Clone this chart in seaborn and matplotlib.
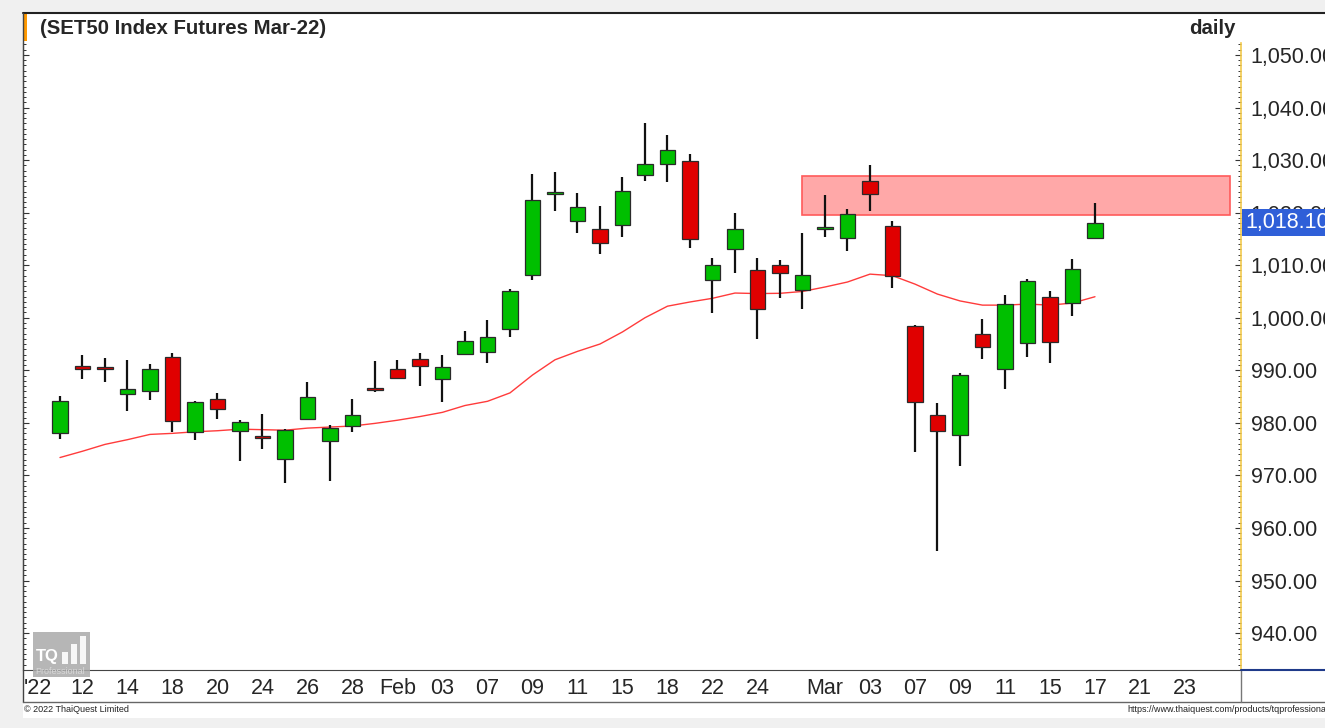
import pandas as pd
import matplotlib.pyplot as plt
import matplotlib.ticker as mticker
from matplotlib.patches import Rectangle
from matplotlib.lines import Line2D
import seaborn as sns

W, H = 1325, 728

# trading calendar (SET holiday on Feb 16 dropped); Jan 10 only carries the year label
calendar = pd.bdate_range("2022-01-10", "2022-03-25").drop(pd.Timestamp("2022-02-16"))

dates = pd.bdate_range("2022-01-11", "2022-03-17").drop(pd.Timestamp("2022-02-16"))
opens = [978.1, 990.9, 990.6, 985.5, 986.1, 992.5, 978.2, 984.5, 978.4, 977.5,
         973.1, 980.8, 976.6, 979.4, 986.6, 990.2, 992.2, 988.3, 993.1, 993.4,
         997.9, 1008.1, 1023.5, 1018.4, 1016.9, 1017.6, 1027.2, 1029.2, 1029.8, 1007.1,
         1013.0, 1009.1, 1010.0, 1005.2, 1016.8, 1015.1, 1026.0, 1017.5, 998.5, 981.5,
         977.6, 997.0, 990.2, 995.1, 1004.0, 1002.9, 1015.1]
highs = [985.1, 992.9, 992.3, 992.0, 991.2, 993.2, 984.2, 985.7, 980.5, 981.7,
         978.8, 987.8, 979.5, 984.5, 991.8, 992.0, 993.2, 993.0, 997.5, 999.6,
         1005.4, 1027.4, 1027.8, 1023.8, 1021.3, 1026.8, 1037.1, 1034.8, 1031.1, 1011.3,
         1019.9, 1011.4, 1010.9, 1016.2, 1023.4, 1020.7, 1029.1, 1018.4, 998.6, 983.7,
         989.5, 999.8, 1004.3, 1007.4, 1005.1, 1011.2, 1021.9]
lows = [977.0, 988.3, 987.7, 982.3, 984.3, 978.3, 976.7, 980.7, 972.7, 975.1,
        968.5, 980.5, 968.9, 978.3, 985.9, 988.3, 987.1, 984.0, 992.9, 991.4,
        996.4, 1007.1, 1020.4, 1016.1, 1012.1, 1015.4, 1026.0, 1025.9, 1013.3, 1000.9,
        1008.5, 996.0, 1003.8, 1001.6, 1015.3, 1012.7, 1020.4, 1005.6, 974.5, 955.6,
        971.7, 992.1, 986.4, 992.5, 991.3, 1000.3, 1014.9]
closes = [984.2, 990.3, 990.2, 986.4, 990.2, 980.4, 983.9, 982.6, 980.2, 977.1,
          978.6, 985.0, 979.0, 981.4, 986.3, 988.5, 990.9, 990.6, 995.6, 996.4,
          1005.0, 1022.4, 1023.7, 1021.1, 1014.2, 1024.2, 1029.2, 1031.9, 1015.0, 1010.0,
          1016.8, 1001.6, 1008.5, 1008.1, 1017.2, 1019.7, 1023.5, 1008.0, 984.0, 978.5,
          989.05, 994.4, 1002.6, 1006.9, 995.4, 1009.3, 1018.1]
ma = [973.4, 974.6, 975.9, 976.8, 977.8, 978.0, 978.3, 978.5, 978.8, 978.7,
      978.6, 979.0, 979.2, 979.4, 979.9, 980.5, 981.2, 982.0, 983.3, 984.1,
      985.7, 989.1, 992.0, 993.6, 995.0, 997.3, 1000.0, 1002.2, 1003.0, 1003.7,
      1004.7, 1004.6, 1004.65, 1005.0, 1005.85, 1006.8, 1008.3, 1008.0, 1006.4, 1004.5,
      1003.2, 1002.4, 1002.4, 1002.6, 1002.4, 1002.8, 1004.0]

# resistance zone
zone_start, zone_end = "2022-02-28", "2022-03-25"
zone_low, zone_high = 1019.55, 1027.0

tick_dates = ["2022-01-10", "2022-01-12", "2022-01-14", "2022-01-18", "2022-01-20",
              "2022-01-24", "2022-01-26", "2022-01-28", "2022-02-01", "2022-02-03",
              "2022-02-07", "2022-02-09", "2022-02-11", "2022-02-15", "2022-02-18",
              "2022-02-22", "2022-02-24", "2022-03-01", "2022-03-03", "2022-03-07",
              "2022-03-09", "2022-03-11", "2022-03-15", "2022-03-17", "2022-03-21",
              "2022-03-23"]
tick_labels = ["'22", "12", "14", "18", "20", "24", "26", "28", "Feb", "03",
               "07", "09", "11", "15", "18", "22", "24", "Mar", "03", "07",
               "09", "11", "15", "17", "21", "23"]

pos = {d: i for i, d in enumerate(calendar)}
df = pd.DataFrame({"date": dates, "open": opens, "high": highs,
                   "low": lows, "close": closes, "ma": ma})
df["x"] = df["date"].map(pos)
df["up"] = df["close"] >= df["open"]

sns.set_style("white")
plt.rcParams["font.family"] = ["Liberation Sans", "DejaVu Sans"]

fig = plt.figure(figsize=(W / 100, H / 100), dpi=100)
fig.patch.set_facecolor("#f0f0f0")


def fx(px):
    return px / W


def fy(py):
    return 1 - py / H


# white panel + frame lines
fig.add_artist(Rectangle((fx(23), fy(718)), fx(W) - fx(23), fy(13) - fy(718),
                         transform=fig.transFigure, fc="white", ec="none", zorder=0))
for xs, ys, c, lw in [((23, W), (13, 13), "#222222", 1.5),
                      ((23, 23), (13, 702), "#444444", 1.0),
                      ((23, W), (702, 702), "#666666", 1.0),
                      ((1241, 1241), (670, 702), "#777777", 1.0),
                      ((1241, W), (670, 670), "#1f3a8a", 1.5)]:
    fig.add_artist(Line2D([fx(v) for v in xs], [fy(v) for v in ys], color=c, lw=lw))
fig.add_artist(Rectangle((fx(23), fy(41)), fx(27) - fx(23), fy(13) - fy(41),
                         transform=fig.transFigure, fc="#ff9900", ec="none"))

ax = fig.add_axes([fx(23), fy(670), fx(1241) - fx(23), fy(43) - fy(670)])
ax.set_facecolor("white")

# zone
zx0, zx1 = pos[pd.Timestamp(zone_start)], pos[pd.Timestamp(zone_end)]
ax.add_patch(Rectangle((zx0, zone_low), zx1 - zx0, zone_high - zone_low,
                       fc="#ffa8a8", ec="#ff5a5a", lw=1.2, zorder=1))

# moving average
sns.lineplot(data=df, x="x", y="ma", color="#ff3b3b", lw=1.0, ax=ax, zorder=2)

# candles
ax.vlines(df["x"], df["low"], df["high"], color="#111111", lw=1.6, zorder=3)
body_low = df[["open", "close"]].min(axis=1)
body_h = (df["close"] - df["open"]).abs().clip(lower=0.35)
ax.bar(df["x"], body_h, bottom=body_low, width=0.68,
       color=["#00bf00" if u else "#e00000" for u in df["up"]],
       edgecolor="#2a2a2a", lw=0.9, zorder=4)

ax.set_xlim(-0.644, 53.49)
ax.set_ylim(932.97, 1052.28)
ax.set_xlabel("")
ax.set_ylabel("")

ax.set_xticks([pos[pd.Timestamp(d)] for d in tick_dates])
ax.set_xticklabels(tick_labels)
ax.tick_params(axis="x", direction="in", length=3, width=0.8, color="#666666",
               labelsize=15.5, pad=6)

ax.yaxis.set_major_locator(mticker.MultipleLocator(10))
ax.yaxis.set_minor_locator(mticker.MultipleLocator(1))
ax.yaxis.set_major_formatter(mticker.FuncFormatter(lambda v, _: f"{v:,.2f}"))
ax.yaxis.set_ticks_position("both")
ax.tick_params(axis="y", which="major", direction="in", length=4, width=0.8,
               color="#333333", labelleft=False, labelright=True, labelsize=15.5, pad=7)
ax.tick_params(axis="y", which="minor", direction="in", length=2, width=0.7,
               color="#333333", left=True, right=True)

ax.spines["top"].set_visible(False)
ax.spines["right"].set_color("#f2c94c")
ax.spines["right"].set_linewidth(1.2)
ax.spines["left"].set_color("#444444")
ax.spines["bottom"].set_color("#444444")

# last price tag
last = df["close"].iloc[-1]
ax.annotate(f"{last:,.2f}", xy=(1, last), xycoords=("axes fraction", "data"),
            xytext=(3, 0), textcoords="offset points", ha="left", va="center",
            color="white", fontsize=15.5,
            bbox=dict(boxstyle="square,pad=0.15", fc="#2f5fd8", ec="none"),
            annotation_clip=False, zorder=10)

# header
fig.text(fx(40), fy(28), "(SET50 Index Futures Mar-22)", fontsize=14.7,
         fontweight="bold", va="center", ha="left")
fig.text(fx(1236), fy(28), "daily", fontsize=14.7, fontweight="bold",
         va="center", ha="right")

# watermark logo
fig.add_artist(Rectangle((fx(33), fy(677)), fx(90) - fx(33), fy(632) - fy(677),
                         transform=fig.transFigure, fc="#a9a9a9", ec="none",
                         alpha=0.85, zorder=5))
fig.text(fx(36), fy(657), "TQ", color="white", fontsize=12, fontweight="bold",
         va="center", ha="left", zorder=6)
for bx, top in [(62, 652), (71, 644), (80, 636)]:
    fig.add_artist(Rectangle((fx(bx), fy(664)), fx(6), fy(top) - fy(664),
                             transform=fig.transFigure, fc="white", ec="none",
                             alpha=0.9, zorder=6))
fig.text(fx(35), fy(672), "Professional", color="#d8d8d8", fontsize=6.5,
         va="center", ha="left", zorder=6)

# footer
fig.text(fx(24), fy(710), "\u00a9 2022 ThaiQuest Limited", fontsize=6.5,
         va="center", ha="left", color="#222222")
fig.text(fx(1127), fy(710), "https://www.thaiquest.com/products/tqprofessional",
         fontsize=6.5, va="center", ha="left", color="#222222")

fig.savefig("out.png", dpi=100, facecolor=fig.get_facecolor())
